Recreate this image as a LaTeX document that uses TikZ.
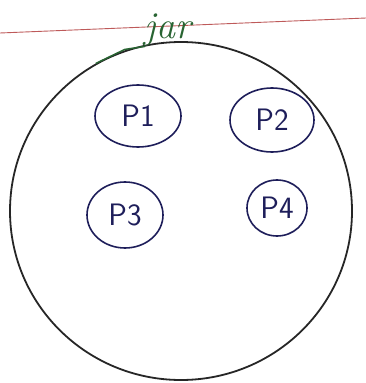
\documentclass[tikz,border=0pt]{standalone}
\usepackage{fontspec}
\usepackage{xcolor}
\usepackage{tikz}
\usetikzlibrary{shapes.geometric, positioning}

\definecolor{inkblue}{RGB}{30,30,90}
\definecolor{inkgreen}{RGB}{40,100,50}
\definecolor{rulered}{RGB}{190,90,90}

\begin{document}
\begin{tikzpicture}[
    x=1pt, y=-1pt,
    every node/.style={font=\sffamily},
    jarshape/.style={ellipse, draw=black!85, line width=1.8pt,
                minimum width=342pt, minimum height=338pt, inner sep=0pt},
    proc/.style={ellipse, draw=inkblue, line width=1.6pt, inner sep=0pt,
                text=inkblue, font=\sffamily\fontsize{31}{33}\selectfont},
    lbl/.style={text=inkgreen, inner sep=0pt,
                font=\fontsize{38}{40}\selectfont\itshape}
  ]

  \useasboundingbox (0,0) rectangle (366,383);

  %% ruled line of the page
  \coordinate (rl) at (0,33);
  \coordinate (rr) at (366,18);
  \draw[rulered, line width=0.9pt] (rl) -- (rr);

  %% the jar
  \node[jarshape] (jar) at (181,211) {};
  \node[lbl] (jarlbl) at (168,30) {jar};
  \draw[inkgreen, line width=1.5pt] (jarlbl.south west) -- ++(-20,3) -- (jar.120);

  %% processes inside
  \node[proc, minimum width=86pt, minimum height=62pt] (p1) at (138,116) {P1};
  \node[proc, minimum width=84pt, minimum height=64pt] (p2) at (272,120) {P2};
  \node[proc, minimum width=76pt, minimum height=66pt] (p3) at (125,215) {P3};
  \node[proc, minimum width=60pt, minimum height=56pt] (p4) at (277,208) {P4};

\end{tikzpicture}
\end{document}
